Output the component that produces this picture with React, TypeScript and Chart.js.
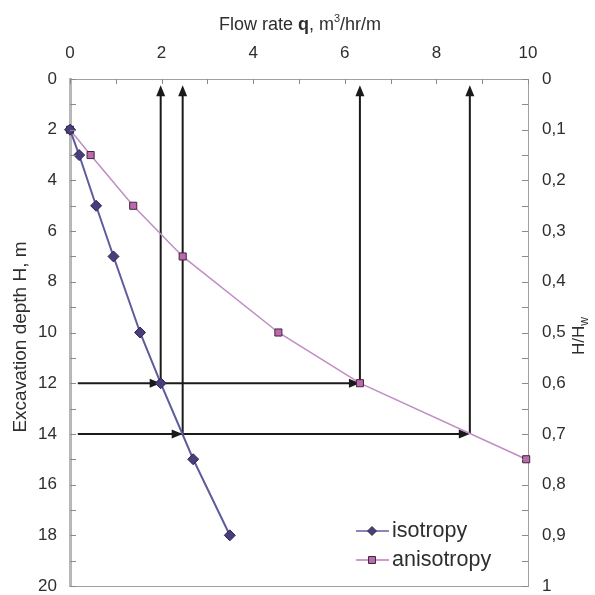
import React, { useEffect, useRef } from 'react';
import { Chart, registerables } from 'chart.js';
Chart.register(...registerables);

// ---- data ----
const isoQ = [0, 0.2, 0.57, 0.95, 1.53, 1.98, 2.69, 3.49];
const isoH = [2, 3, 5, 7, 10, 12, 15, 18];
const anisoQ = [0, 0.45, 1.38, 2.46, 4.55, 6.33, 9.96];
const anisoH = [2, 3, 5, 7, 10, 12, 15];

const verticalArrowQ = [1.98, 2.46, 6.33, 8.73];
const verticalArrowFromH = [12, 14, 12, 14];
const verticalArrowTipH = 0.25;
const horizontalArrowH = [12, 14];
const horizontalArrowStartQ = [0.17, 0.17];
const horizontalArrowHeadsQ = [
  [1.98, 6.33],
  [2.46, 8.73],
];

const seriesLabels = ['isotropy', 'anisotropy'];
const xAxisRange = [0, 10];
const yAxisRange = [0, 20];
const y2AxisRange = [0, 1];

const FONT = "'Liberation Sans', Arial, sans-serif";
const TEXT = '#2e2e2e';
const ISO_LINE = '#5d5c9c';
const ISO_FILL = '#4a3d7c';
const ANI_LINE = '#c08bc6';
const ANI_FILL = '#c067b0';

function arrowHead(ctx: CanvasRenderingContext2D, x: number, y: number, dir: 'up' | 'right') {
  const L = 11;
  const W = 4.5;
  ctx.beginPath();
  if (dir === 'up') {
    ctx.moveTo(x, y);
    ctx.lineTo(x - W, y + L);
    ctx.lineTo(x + W, y + L);
  } else {
    ctx.moveTo(x, y);
    ctx.lineTo(x - L, y - W);
    ctx.lineTo(x - L, y + W);
  }
  ctx.closePath();
  ctx.fill();
}

const decorPlugin = {
  id: 'decor',
  beforeDatasetsDraw(chart: any) {
    const ctx: CanvasRenderingContext2D = chart.ctx;
    const xs = chart.scales.x;
    const ys = chart.scales.y;
    ctx.save();
    ctx.strokeStyle = '#1a1a1a';
    ctx.fillStyle = '#1a1a1a';
    ctx.lineWidth = 2;
    verticalArrowQ.forEach((q, i) => {
      const px = xs.getPixelForValue(q);
      const y0 = ys.getPixelForValue(verticalArrowFromH[i]);
      const y1 = ys.getPixelForValue(verticalArrowTipH);
      ctx.beginPath();
      ctx.moveTo(px, y0);
      ctx.lineTo(px, y1 + 6);
      ctx.stroke();
      arrowHead(ctx, px, y1, 'up');
    });
    horizontalArrowH.forEach((h, i) => {
      const py = ys.getPixelForValue(h);
      const heads = horizontalArrowHeadsQ[i];
      const x0 = xs.getPixelForValue(horizontalArrowStartQ[i]);
      const x1 = xs.getPixelForValue(heads[heads.length - 1]);
      ctx.beginPath();
      ctx.moveTo(x0, py);
      ctx.lineTo(x1 - 6, py);
      ctx.stroke();
      heads.forEach((q) => arrowHead(ctx, xs.getPixelForValue(q), py, 'right'));
    });
    ctx.restore();
  },
  afterDraw(chart: any) {
    const ctx: CanvasRenderingContext2D = chart.ctx;
    const { left, right, top, bottom } = chart.chartArea;
    const xs = chart.scales.x;
    const ys = chart.scales.y;
    ctx.save();
    // bottom border
    ctx.strokeStyle = '#a0a0a0';
    ctx.lineWidth = 1;
    ctx.beginPath();
    ctx.moveTo(left, bottom + 0.5);
    ctx.lineTo(right, bottom + 0.5);
    ctx.stroke();
    // minor ticks (inward)
    ctx.strokeStyle = '#8a8a8a';
    for (let q = xAxisRange[0]; q <= xAxisRange[1]; q += 1) {
      const px = Math.round(xs.getPixelForValue(q)) + 0.5;
      ctx.beginPath();
      ctx.moveTo(px, top);
      ctx.lineTo(px, top + 5);
      ctx.stroke();
    }
    for (let h = yAxisRange[0]; h <= yAxisRange[1]; h += 1) {
      const py = Math.round(ys.getPixelForValue(h)) + 0.5;
      ctx.beginPath();
      ctx.moveTo(left, py);
      ctx.lineTo(left + 6, py);
      ctx.moveTo(right, py);
      ctx.lineTo(right - 6, py);
      ctx.stroke();
    }
    ctx.fillStyle = TEXT;
    // top title with bold q and superscript 3
    const parts: [string, string, number][] = [
      ['Flow rate ', `18px ${FONT}`, 0],
      ['q', `bold 18px ${FONT}`, 0],
      [', m', `18px ${FONT}`, 0],
      ['3', `11px ${FONT}`, -8],
      ['/hr/m', `18px ${FONT}`, 0],
    ];
    let total = 0;
    parts.forEach(([t, f]) => {
      ctx.font = f;
      total += ctx.measureText(t).width;
    });
    let cx = 300 - total / 2;
    ctx.textBaseline = 'alphabetic';
    ctx.textAlign = 'left';
    parts.forEach(([t, f, dy]) => {
      ctx.font = f;
      ctx.fillText(t, cx, 30 + dy);
      cx += ctx.measureText(t).width;
    });
    // left title
    ctx.save();
    ctx.translate(26, 337);
    ctx.rotate(-Math.PI / 2);
    ctx.font = `19px ${FONT}`;
    ctx.textAlign = 'center';
    ctx.fillText('Excavation depth H, m', 0, 0);
    ctx.restore();
    // right title H/Hw
    ctx.save();
    ctx.translate(584, 336);
    ctx.rotate(-Math.PI / 2);
    const main = 'H/H';
    ctx.font = `17px ${FONT}`;
    const wMain = ctx.measureText(main).width;
    ctx.font = `12px ${FONT}`;
    const wSub = ctx.measureText('w').width;
    const start = -(wMain + wSub) / 2;
    ctx.textAlign = 'left';
    ctx.font = `17px ${FONT}`;
    ctx.fillText(main, start, 0);
    ctx.font = `12px ${FONT}`;
    ctx.fillText('w', start + wMain, 4);
    ctx.restore();
    // legend
    const legendItems = [
      { label: seriesLabels[0], line: '#8c86b8', fill: ISO_FILL, shape: 'diamond', y: 531 },
      { label: seriesLabels[1], line: '#d29ad2', fill: ANI_FILL, shape: 'square', y: 560 },
    ];
    legendItems.forEach((it) => {
      ctx.strokeStyle = it.line;
      ctx.lineWidth = 2;
      ctx.beginPath();
      ctx.moveTo(356, it.y);
      ctx.lineTo(389, it.y);
      ctx.stroke();
      ctx.fillStyle = it.fill;
      ctx.strokeStyle = '#333';
      ctx.lineWidth = 1;
      ctx.beginPath();
      if (it.shape === 'diamond') {
        ctx.moveTo(372, it.y - 4.5);
        ctx.lineTo(376.5, it.y);
        ctx.lineTo(372, it.y + 4.5);
        ctx.lineTo(367.5, it.y);
        ctx.closePath();
      } else {
        ctx.rect(368.5, it.y - 3.5, 7, 7);
      }
      ctx.fill();
      ctx.stroke();
      ctx.fillStyle = TEXT;
      ctx.font = `21.5px ${FONT}`;
      ctx.textAlign = 'left';
      ctx.textBaseline = 'middle';
      ctx.fillText(it.label, 392, it.y);
    });
    ctx.restore();
  },
};

export default function App() {
  const ref = useRef<HTMLCanvasElement | null>(null);
  useEffect(() => {
    document.body.style.margin = '0';
    if (!ref.current) return;
    const chart = new Chart(ref.current, {
      type: 'scatter',
      data: {
        datasets: [
          {
            label: seriesLabels[0],
            data: isoQ.map((q, i) => ({ x: q, y: isoH[i] })),
            showLine: true,
            clip: false,
            borderColor: ISO_LINE,
            borderWidth: 2,
            backgroundColor: ISO_FILL,
            pointBorderColor: '#2c2450',
            pointBorderWidth: 1,
            pointStyle: 'rectRot',
            pointRadius: 5.5,
            yAxisID: 'y',
          },
          {
            label: seriesLabels[1],
            data: anisoQ.map((q, i) => ({ x: q, y: anisoH[i] })),
            showLine: true,
            clip: false,
            borderColor: ANI_LINE,
            borderWidth: 1.5,
            backgroundColor: ANI_FILL,
            pointBorderColor: '#3a2a3a',
            pointBorderWidth: 1,
            pointStyle: 'rect',
            pointRadius: 5,
            yAxisID: 'y',
          },
        ],
      },
      options: {
        responsive: false,
        animation: false,
        layout: { padding: { left: 0, right: 0, top: 0, bottom: 9 } },
        plugins: { legend: { display: false }, tooltip: { enabled: false }, title: { display: false } },
        scales: {
          x: {
            type: 'linear',
            position: 'top',
            min: xAxisRange[0],
            max: xAxisRange[1],
            ticks: { stepSize: 2, color: TEXT, font: { family: FONT, size: 17 }, padding: 7 },
            grid: { display: false },
            border: { display: true, color: '#a0a0a0', width: 1 },
            afterFit: (s: any) => { s.height = 79; s.paddingLeft = 0; s.paddingRight = 0; },
          },
          y: {
            type: 'linear',
            position: 'left',
            reverse: true,
            min: yAxisRange[0],
            max: yAxisRange[1],
            ticks: { stepSize: 2, color: TEXT, font: { family: FONT, size: 17 }, padding: 5 },
            grid: { display: false },
            border: { display: true, color: '#b8b8b8', width: 3 },
            afterFit: (s: any) => { s.width = 70; s.paddingTop = 0; s.paddingBottom = 0; },
          },
          y2: {
            type: 'linear',
            position: 'right',
            reverse: true,
            min: y2AxisRange[0],
            max: y2AxisRange[1],
            ticks: {
              stepSize: 0.1,
              color: TEXT,
              font: { family: FONT, size: 17 },
              padding: 6,
              callback: (v: any) => {
                const n = Math.round(Number(v) * 10) / 10;
                return String(n).replace('.', ',');
              },
            },
            grid: { display: false },
            border: { display: true, color: '#a0a0a0', width: 1 },
            afterFit: (s: any) => { s.width = 67; s.paddingTop = 0; s.paddingBottom = 0; },
          },
        },
      },
      plugins: [decorPlugin],
    } as any);
    return () => chart.destroy();
  }, []);
  return (
    <div style={{ width: 595, height: 595 }}>
      <canvas ref={ref} width={595} height={595} />
    </div>
  );
}
